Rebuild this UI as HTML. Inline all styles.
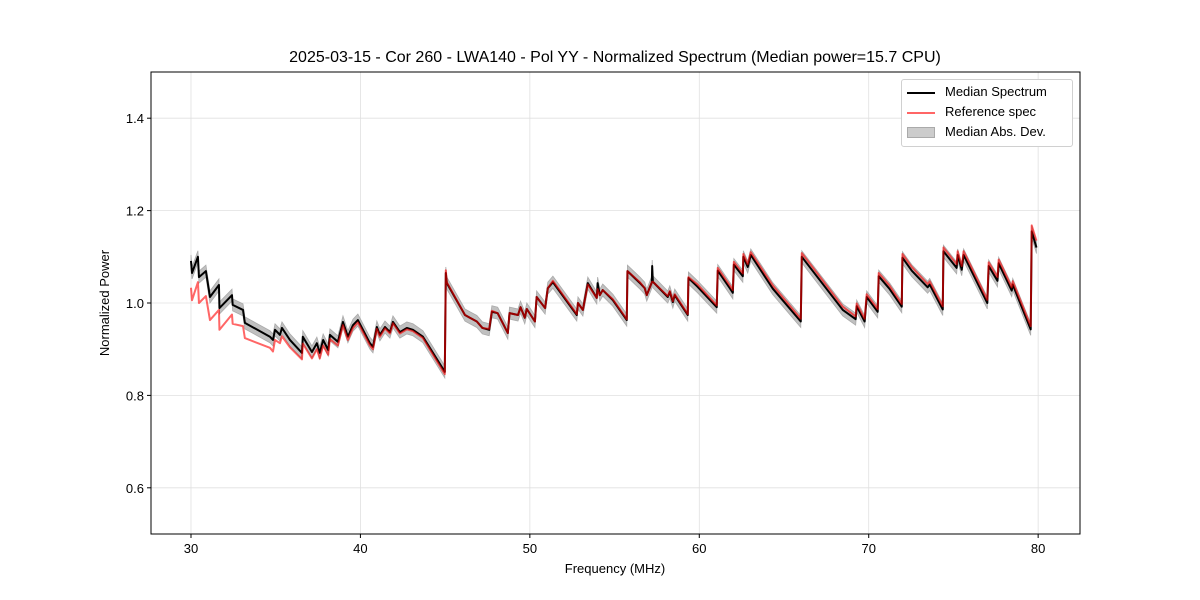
<!DOCTYPE html>
<html><head><meta charset="utf-8"><style>
body{margin:0;background:#fff;}
svg{display:block;font-family:"Liberation Sans","DejaVu Sans",sans-serif;}
</style></head><body>
<svg id="chart" width="1200" height="600" viewBox="0 0 1200 600"></svg>
<script>
const freqs=[30.00,30.06,30.41,30.47,30.88,31.12,31.65,31.68,32.42,32.46,33.07,33.18,34.66,34.84,34.96,35.25,35.37,35.84,36.55,36.60,37.14,37.43,37.60,37.80,38.10,38.20,38.67,38.97,39.26,39.56,39.85,40.56,40.74,40.97,41.15,41.45,41.74,41.92,42.33,42.74,43.10,43.69,44.98,45.04,45.10,46.17,46.46,46.87,47.20,47.60,47.76,48.10,48.70,48.80,49.30,49.45,49.70,49.82,50.30,50.40,50.90,51.06,51.36,52.77,52.84,53.13,53.42,53.95,54.00,54.13,54.30,54.90,55.72,55.76,56.50,56.78,56.90,57.20,57.22,57.26,58.14,58.26,58.44,58.55,59.32,59.36,59.90,61.03,61.09,61.80,61.98,62.04,62.57,62.60,62.86,63.04,64.34,65.99,66.05,68.47,69.23,69.29,69.76,69.88,70.53,70.59,71.24,71.95,71.99,72.54,73.48,73.60,74.37,74.41,75.19,75.25,75.49,75.60,77.00,77.08,77.60,77.67,78.44,78.50,79.56,79.62,79.90];
const medianV=[1.091,1.065,1.100,1.056,1.069,1.013,1.039,0.989,1.017,0.996,0.985,0.957,0.927,0.920,0.942,0.931,0.946,0.920,0.892,0.927,0.894,0.913,0.892,0.920,0.898,0.931,0.916,0.959,0.927,0.952,0.963,0.913,0.905,0.948,0.931,0.948,0.937,0.959,0.937,0.946,0.942,0.927,0.851,1.065,1.043,0.974,0.968,0.960,0.946,0.942,0.981,0.978,0.935,0.978,0.974,0.991,0.968,0.987,0.960,1.013,0.989,1.032,1.045,0.974,1.000,0.985,1.043,1.011,1.043,1.017,1.028,1.006,0.963,1.069,1.043,1.032,1.017,1.045,1.080,1.046,1.013,1.024,1.002,1.017,0.974,1.054,1.035,0.991,1.070,1.032,1.022,1.083,1.058,1.100,1.078,1.104,1.031,0.960,1.100,0.985,0.965,0.993,0.960,1.013,0.981,1.058,1.030,0.992,1.098,1.070,1.034,1.040,0.986,1.112,1.076,1.104,1.072,1.104,1.000,1.080,1.048,1.086,1.027,1.040,0.943,1.155,1.120];
const refV=[1.033,1.006,1.045,1.000,1.015,0.963,0.985,0.942,0.975,0.955,0.950,0.924,0.903,0.895,0.920,0.913,0.928,0.904,0.878,0.912,0.880,0.900,0.880,0.908,0.888,0.922,0.908,0.952,0.920,0.946,0.958,0.908,0.900,0.944,0.927,0.945,0.934,0.956,0.934,0.943,0.939,0.924,0.846,1.071,1.045,0.974,0.968,0.960,0.946,0.944,0.983,0.978,0.935,0.978,0.974,0.991,0.968,0.987,0.960,1.013,0.989,1.032,1.048,0.976,1.000,0.985,1.040,1.011,1.030,1.017,1.028,1.008,0.965,1.069,1.045,1.032,1.017,1.045,1.046,1.046,1.015,1.026,1.004,1.019,0.976,1.056,1.040,0.995,1.076,1.038,1.028,1.089,1.064,1.106,1.084,1.110,1.038,0.966,1.108,0.992,0.971,0.999,0.966,1.019,0.987,1.065,1.037,0.998,1.106,1.078,1.041,1.047,0.993,1.120,1.084,1.112,1.080,1.112,1.007,1.088,1.056,1.094,1.034,1.047,0.950,1.168,1.135];
const madHalf=0.013;
const xTicks=[30,40,50,60,70,80];
const yTicks=[0.6,0.8,1.0,1.2,1.4];

const NS="http://www.w3.org/2000/svg";
const svg=document.getElementById('chart');
const L=151,R=1080,T=72,B=534;
const xMin=27.64,xMax=82.47,yMin=0.5,yMax=1.5;
const X=f=>L+(f-xMin)/(xMax-xMin)*(R-L);
const Y=v=>B-(v-yMin)/(yMax-yMin)*(B-T);
function mk(tag,attrs){const e=document.createElementNS(NS,tag);for(const k in attrs)e.setAttribute(k,attrs[k]);svg.appendChild(e);return e;}

xTicks.forEach(t=>{const g=mk('line',{x1:X(t),x2:X(t),y1:T,y2:B,stroke:'#e0e0e0','stroke-width':0.8});

});
yTicks.forEach(t=>{const g=mk('line',{x1:L,x2:R,y1:Y(t),y2:Y(t),stroke:'#e0e0e0','stroke-width':0.8});

});

let up=freqs.map((f,i)=>X(f).toFixed(2)+','+Y(medianV[i]+madHalf).toFixed(2));
let dn=freqs.map((f,i)=>X(f).toFixed(2)+','+Y(medianV[i]-madHalf).toFixed(2)).reverse();
const band=mk('polygon',{points:up.concat(dn).join(' '),fill:'#b0b0b0','fill-opacity':0.8,stroke:'#aaaaaa','stroke-width':0.8});



const med=mk('polyline',{points:freqs.map((f,i)=>X(f).toFixed(2)+','+Y(medianV[i]).toFixed(2)).join(' '),fill:'none',stroke:'#000','stroke-width':2,'stroke-linejoin':'round'});


const ref=mk('polyline',{points:freqs.map((f,i)=>X(f).toFixed(2)+','+Y(refV[i]).toFixed(2)).join(' '),fill:'none',stroke:'rgba(255,0,0,0.6)','stroke-width':2,'stroke-linejoin':'round'});



const fr=mk('rect',{x:L,y:T,width:R-L,height:B-T,fill:'none',stroke:'#000','stroke-width':1});



xTicks.forEach(t=>{const tk=mk('line',{x1:X(t),x2:X(t),y1:B,y2:B+4,stroke:'#000'});


const tx=mk('text',{x:X(t),y:B+19,'text-anchor':'middle','font-size':13});tx.textContent=t;

});
yTicks.forEach(t=>{const tk=mk('line',{x1:L-4,x2:L,y1:Y(t),y2:Y(t),stroke:'#000'});


const tx=mk('text',{x:L-7,y:Y(t)+5,'text-anchor':'end','font-size':13});tx.textContent=t.toFixed(1);

});
</script>
<div style="position:absolute;left:0;top:0;width:1200px;height:600px;pointer-events:none;font-family:'Liberation Sans',sans-serif;">
<div style="position:absolute;left:0;width:1230px;top:49px;text-align:center;font-size:16px;">2025-03-15 - Cor 260 - LWA140 - Pol YY - Normalized Spectrum (Median power=15.7 CPU)</div>
<div style="position:absolute;left:515px;width:200px;top:561px;text-align:center;font-size:13px;">Frequency (MHz)</div>
<div style="position:absolute;left:5px;top:295px;width:200px;height:16px;line-height:16px;text-align:center;font-size:13px;transform:rotate(-90deg);transform-origin:center;">Normalized Power</div>
<div style="position:absolute;left:901px;top:79px;width:170px;height:66px;border:1px solid #d0d0d0;border-radius:3px;background:#fff;font-size:13px;">
 <div style="position:absolute;left:5px;top:4px;"><span style="display:inline-block;width:28px;height:2px;background:#000;vertical-align:middle;margin-right:10px;"></span>Median Spectrum</div>
 <div style="position:absolute;left:5px;top:24px;"><span style="display:inline-block;width:28px;height:2px;background:#ff6666;vertical-align:middle;margin-right:10px;"></span>Reference spec</div>
 <div style="position:absolute;left:5px;top:44px;"><span style="display:inline-block;width:26px;height:9px;background:#cccccc;border:1px solid #aaa;vertical-align:middle;margin-right:10px;"></span>Median Abs. Dev.</div>
</div>
</div>
</body></html>
